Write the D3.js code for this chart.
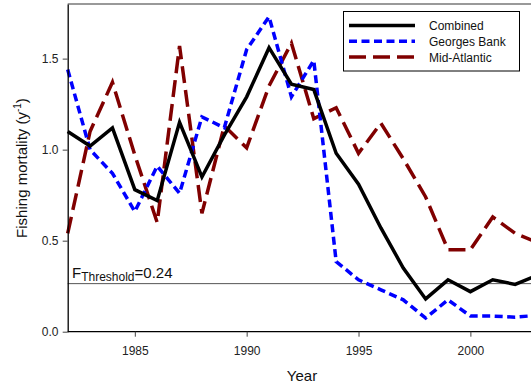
<!DOCTYPE html>
<html>
<head>
<meta charset="utf-8">
<script src="https://d3js.org/d3.v7.min.js"></script>
<style>
  body { margin: 0; background: #fff; }
  text { font-family: Arial, "Liberation Sans", sans-serif; }
</style>
</head>
<body>
<svg id="chart" width="531" height="388"></svg>
<script>

var years = d3.range(1982, 2004);

var combined = [1.10, 1.02, 1.12, 0.78, 0.72, 1.15, 0.85, 1.08, 1.29, 1.56, 1.36, 1.33,
                0.98, 0.81, 0.57, 0.35, 0.18, 0.285, 0.22, 0.285, 0.26, 0.31];
var georges = [1.44, 1.00, 0.87, 0.66, 0.91, 0.76, 1.18, 1.12, 1.55, 1.73, 1.29, 1.49,
               0.385, 0.285, 0.23, 0.175, 0.075, 0.175, 0.086, 0.086, 0.08, 0.09];
var midAtl = [0.54, 1.10, 1.37, 0.97, 0.60, 1.57, 0.65, 1.13, 1.01, 1.35, 1.585, 1.17,
              1.23, 0.98, 1.145, 0.95, 0.74, 0.45, 0.45, 0.63, 0.54, 0.49];

var seriesNames = ["Combined", "Georges Bank", "Mid-Atlantic"];
var threshold = 0.264;
var yTicks = [0.0, 0.5, 1.0, 1.5];
var xTicks = [1985, 1990, 1995, 2000];

var svg = d3.select("#chart");

var x = d3.scaleLinear().domain([1982, 2003]).range([67.7, 537.5]);
var y = d3.scaleLinear().domain([0, 1.8]).range([331.7, 4]);

var styles = [
  {color: "#000000", dash: null, width: 3.5},
  {color: "#0000ff", dash: "8,4.5", width: 3.5},
  {color: "#800000", dash: "17,7", width: 3.5}
];
var allSeries = [combined, georges, midAtl];

// top frame line
svg.append("line")
  .attr("x1", x(1982)).attr("x2", 531)
  .attr("y1", y(1.8)).attr("y2", y(1.8))
  .attr("stroke", "#777").attr("stroke-width", 1.5);

// threshold line
svg.append("line")
  .attr("x1", x(1982)).attr("x2", 531)
  .attr("y1", y(threshold)).attr("y2", y(threshold))
  .attr("stroke", "#555").attr("stroke-width", 1);

var thr = svg.append("text")
  .attr("x", 72).attr("y", y(threshold) - 6)
  .attr("font-size", 15).attr("fill", "#111");
thr.append("tspan").text("F");
thr.append("tspan").attr("font-size", 12).attr("dy", 3).text("Threshold");
thr.append("tspan").attr("dy", -3).text("=0.24");

var line = d3.line()
  .x(function(d, i) { return x(years[i]); })
  .y(function(d) { return y(d); });

// draw order: mid-atlantic, georges, combined
[2, 1, 0].forEach(function(k) {
  svg.append("path")
    .datum(allSeries[k])
    .attr("fill", "none")
    .attr("stroke", styles[k].color)
    .attr("stroke-width", styles[k].width)
    .attr("stroke-dasharray", styles[k].dash)
    .attr("stroke-linejoin", "miter")
    .attr("d", line);
});

// axes
var xAxis = svg.append("g")
  .attr("transform", "translate(0," + y(0) + ")")
  .call(d3.axisBottom(x).tickValues(xTicks).tickFormat(d3.format("d")).tickSize(5).tickSizeOuter(0));
xAxis.select(".domain").attr("d", "M" + x(1982) + ",0H531");

var yAxis = svg.append("g")
  .attr("transform", "translate(" + x(1982) + ",0)")
  .call(d3.axisLeft(y).tickValues(yTicks).tickFormat(d3.format(".1f")).tickSize(5).tickSizeOuter(0));

svg.selectAll(".tick text").attr("font-size", 12).attr("fill", "#222")
  .attr("font-family", "Arial, 'Liberation Sans', sans-serif");
xAxis.selectAll(".tick text").attr("dy", "1.25em");
yAxis.selectAll(".tick text").attr("dx", "-0.1em");
svg.selectAll(".domain").attr("stroke", "#000").attr("stroke-width", 1.3);
svg.selectAll(".tick line").attr("stroke", "#444");

// axis titles
svg.append("text")
  .attr("x", 302).attr("y", 381)
  .attr("text-anchor", "middle").attr("font-size", 15).attr("fill", "#111")
  .text("Year");

var yl = svg.append("text")
  .attr("transform", "translate(27," + 168 + ") rotate(-90)")
  .attr("text-anchor", "middle").attr("font-size", 15).attr("fill", "#111");
yl.append("tspan").text("Fishing mortality (y");
yl.append("tspan").attr("font-size", 10).attr("dy", -6).text("-1");
yl.append("tspan").attr("dy", 6).text(")");

// legend
var lg = svg.append("g");
lg.append("rect")
  .attr("x", 343.5).attr("y", 11.5).attr("width", 176).attr("height", 59.5)
  .attr("fill", "#fff").attr("stroke", "#000").attr("stroke-width", 1);
seriesNames.forEach(function(name, k) {
  var ly = 25.5 + k * 15.8;
  lg.append("line")
    .attr("x1", 349).attr("x2", 415).attr("y1", ly).attr("y2", ly)
    .attr("stroke", styles[k].color).attr("stroke-width", styles[k].width)
    .attr("stroke-dasharray", styles[k].dash);
  lg.append("text")
    .attr("x", 429).attr("y", ly + 4.5)
    .attr("font-size", 12).attr("fill", "#111")
    .text(name);
});

</script>
</body>
</html>
